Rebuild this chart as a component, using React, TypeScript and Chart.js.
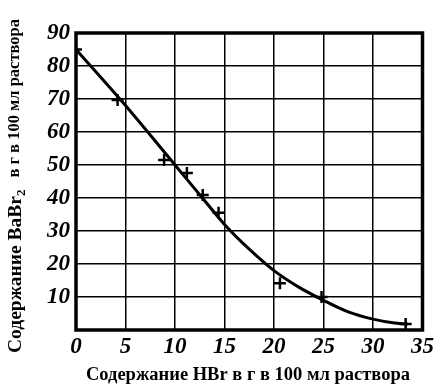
import React, { useEffect, useRef } from "react";
import { Chart, registerables } from "chart.js";

Chart.register(...registerables);

const curveX = [0, 5, 10, 12.5, 15, 17.5, 20, 22.5, 25, 27.5, 30, 32, 33.5];
const curveY = [85, 68, 50, 41, 32, 24.5, 18, 13, 9, 5.5, 3.3, 2.2, 1.8];
const pointX = [0, 4.2, 8.9, 11.2, 12.8, 14.4, 20.6, 24.8, 33.3];
const pointY = [85, 69.7, 51.5, 47.6, 40.9, 35.5, 14.2, 10, 1.8];
const xTitle = "Содержание HBr в г в 100 мл раствора";
const yTitleMain = "Содержание BaBr";
const yTitleSub = "2";
const yTitleRest = "в г в 100 мл раствора";

const frameAndTitles = {
  id: "frameAndTitles",
  afterDraw(chart: any) {
    const { ctx, chartArea } = chart;
    ctx.save();
    ctx.strokeStyle = "#000";
    ctx.lineWidth = 3.5;
    ctx.strokeRect(chartArea.left, chartArea.top, chartArea.right - chartArea.left, chartArea.bottom - chartArea.top);
    ctx.fillStyle = "#000";
    ctx.textBaseline = "middle";
    ctx.textAlign = "center";
    ctx.font = "bold 18.5px 'Liberation Serif'";
    ctx.fillText(xTitle, 248, 375);
    // y title rotated
    ctx.translate(16, 186);
    ctx.rotate(-Math.PI / 2);
    ctx.textAlign = "left";
    ctx.font = "bold 19.5px 'Liberation Serif'";
    const w1 = ctx.measureText(yTitleMain).width;
    ctx.font = "bold 13px 'Liberation Serif'";
    const w2 = ctx.measureText(yTitleSub).width;
    ctx.font = "bold 16.5px 'Liberation Serif'";
    const gap = 12;
    const w3 = ctx.measureText(yTitleRest).width;
    const total = w1 + w2 + gap + w3;
    let x = -total / 2;
    ctx.font = "bold 19.5px 'Liberation Serif'";
    ctx.fillText(yTitleMain, x, 0);
    x += w1;
    ctx.font = "bold 13px 'Liberation Serif'";
    ctx.fillText(yTitleSub, x, 6);
    x += w2 + gap;
    ctx.font = "bold 16.5px 'Liberation Serif'";
    ctx.fillText(yTitleRest, x, -1);
    ctx.restore();
  },
};

export default function App() {
  const ref = useRef<HTMLCanvasElement>(null);
  useEffect(() => {
    const chart = new Chart(ref.current!, {
      type: "scatter",
      data: {
        datasets: [
          {
            type: "line",
            data: curveX.map((x, i) => ({ x, y: curveY[i] })),
            borderColor: "#000",
            borderWidth: 3,
            pointRadius: 0,
            tension: 0.4,
            cubicInterpolationMode: "monotone",
            fill: false,
          } as any,
          {
            data: pointX.map((x, i) => ({ x, y: pointY[i] })),
            pointStyle: "cross",
            pointRadius: 6,
            borderColor: "#000",
            borderWidth: 2.5,
            backgroundColor: "#000",
          },
        ],
      },
      options: {
        animation: false,
        responsive: false,
        layout: { padding: { top: 33, right: 12, left: 0, bottom: 0 } },
        plugins: { legend: { display: false }, tooltip: { enabled: false } },
        scales: {
          x: {
            type: "linear",
            min: 0,
            max: 35,
            afterFit: (s: any) => { s.height = 54; },
            ticks: {
              stepSize: 5,
              color: "#000",
              padding: 3,
              font: { family: "'Liberation Serif'", size: 23, weight: "bold", style: "italic" },
            },
            grid: { color: "#000", lineWidth: 1.5, drawTicks: false },
            border: { display: false },
          },
          y: {
            type: "linear",
            min: 0,
            max: 90,
            afterFit: (s: any) => { s.width = 76; },
            ticks: {
              stepSize: 10,
              color: "#000",
              padding: 6,
              callback: (v: any) => (v === 0 ? "" : String(v)),
              font: { family: "'Liberation Serif'", size: 23, weight: "bold", style: "italic" },
            },
            grid: { color: "#000", lineWidth: 1.5, drawTicks: false },
            border: { display: false },
          },
        },
      },
      plugins: [frameAndTitles],
    });
    return () => chart.destroy();
  }, []);
  return (
    <div style={{ position: "fixed", left: 0, top: 0, width: 437, height: 384, background: "#fff" }}>
      <canvas ref={ref} width={437} height={384} />
    </div>
  );
}
